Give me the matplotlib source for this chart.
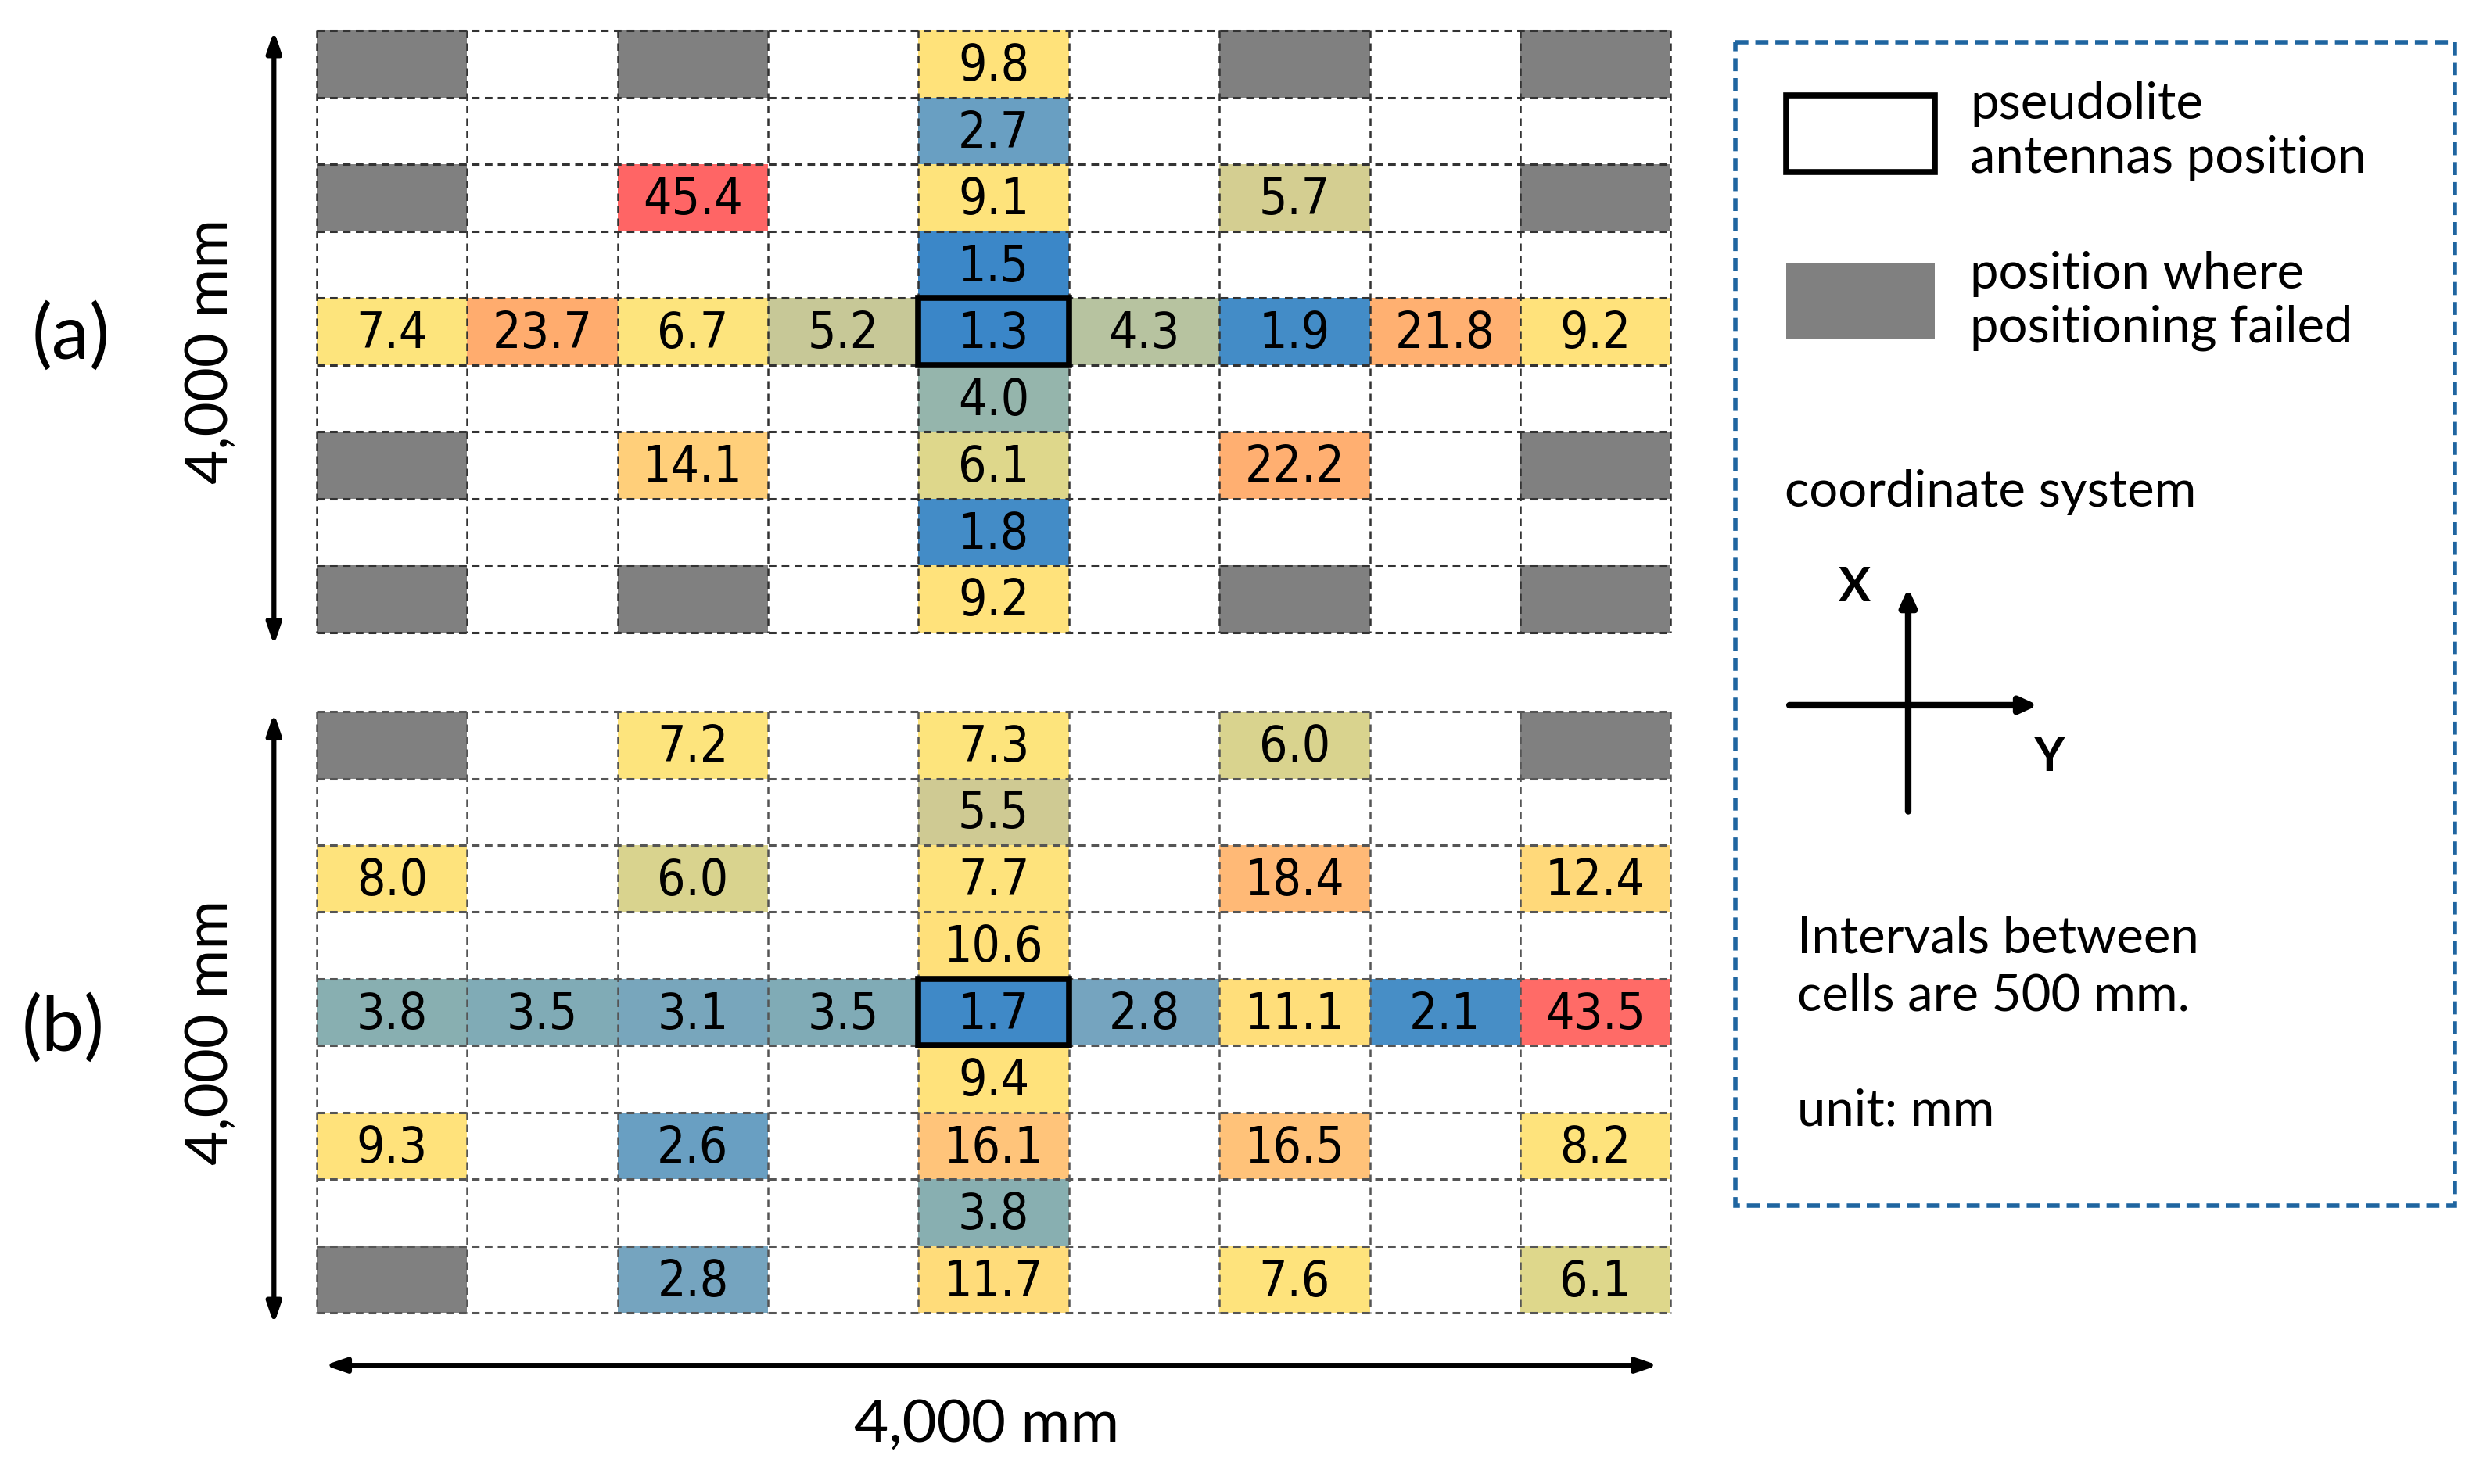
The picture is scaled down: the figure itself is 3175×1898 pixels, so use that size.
import numpy as np
import matplotlib
matplotlib.use("Agg")
import matplotlib.pyplot as plt
from matplotlib.patches import Rectangle
from matplotlib.colors import LinearSegmentedColormap

# positioning error (mm) per cell, nan = not measured
N = np.nan
err_a = [
    [N, N, N, N, 9.8, N, N, N, N],
    [N, N, N, N, 2.7, N, N, N, N],
    [N, N, 45.4, N, 9.1, N, 5.7, N, N],
    [N, N, N, N, 1.5, N, N, N, N],
    [7.4, 23.7, 6.7, 5.2, 1.3, 4.3, 1.9, 21.8, 9.2],
    [N, N, N, N, 4.0, N, N, N, N],
    [N, N, 14.1, N, 6.1, N, 22.2, N, N],
    [N, N, N, N, 1.8, N, N, N, N],
    [N, N, N, N, 9.2, N, N, N, N],
]
fail_a = [(0, 0), (0, 2), (0, 6), (0, 8), (2, 0), (2, 8), (6, 0), (6, 8),
          (8, 0), (8, 2), (8, 6), (8, 8)]

err_b = [
    [N, N, 7.2, N, 7.3, N, 6.0, N, N],
    [N, N, N, N, 5.5, N, N, N, N],
    [8.0, N, 6.0, N, 7.7, N, 18.4, N, 12.4],
    [N, N, N, N, 10.6, N, N, N, N],
    [3.8, 3.5, 3.1, 3.5, 1.7, 2.8, 11.1, 2.1, 43.5],
    [N, N, N, N, 9.4, N, N, N, N],
    [9.3, N, 2.6, N, 16.1, N, 16.5, N, 8.2],
    [N, N, N, N, 3.8, N, N, N, N],
    [N, N, 2.8, N, 11.7, N, 7.6, N, 6.1],
]
fail_b = [(0, 0), (0, 8), (8, 0)]

antenna = (4, 4)

# colour scale anchors (error mm -> colour)
anchor_vals = [0, 1.3, 2.1, 2.7, 3.1, 3.8, 4.3, 5.5, 6.1, 6.5, 10, 12.5, 16, 19, 24, 45, 50]
anchor_cols = ["#3a86c8", "#3a86c8", "#4a90c6", "#74a4c0", "#7ba8b9", "#8ab0b0",
               "#b7c3a0", "#cfca93", "#dfd88b", "#fde47d", "#ffe27a", "#ffd87a",
               "#ffc47a", "#ffb675", "#ffab6e", "#ff6666", "#ff6060"]
cmap = LinearSegmentedColormap.from_list(
    "err", list(zip(np.array(anchor_vals) / 50.0, anchor_cols)))

FAIL = "#808080"
num_font = ["DejaVu Sans"]
txt_font = ["Lato", "DejaVu Sans"]

fig = plt.figure(figsize=(31.75, 18.99), dpi=100)
ax = fig.add_axes([0, 0, 1, 1])
ax.set_xlim(0, 1568)
ax.set_ylim(938, 0)
ax.axis("off")

X0, CW, CH = 200, 95.0, 380 / 9


def draw_grid(y0, err, fail, gridcol):
    err = np.array(err, dtype=float)
    nr, nc = err.shape
    for r in range(nr):
        for c in range(nc):
            x, y = X0 + c * CW, y0 + r * CH
            if (r, c) in fail:
                ax.add_patch(Rectangle((x, y), CW, CH, color=FAIL, lw=0))
            elif not np.isnan(err[r, c]):
                ax.add_patch(Rectangle((x, y), CW, CH,
                                       color=cmap(err[r, c] / 50.0), lw=0))
                ax.text(x + CW / 2, y + CH / 2 + 1, f"{err[r, c]:.1f}",
                        ha="center", va="center", fontsize=46,
                        family=num_font, fontstretch="condensed", color="black")
    for r in range(nr + 1):
        ax.plot([X0, X0 + nc * CW], [y0 + r * CH] * 2, color=gridcol,
                lw=2.2, ls=(0, (3.2, 2.2)), zorder=3)
    for c in range(nc + 1):
        ax.plot([X0 + c * CW] * 2, [y0, y0 + nr * CH], color=gridcol,
                lw=1.8, ls=(0, (3.8, 2.6)), zorder=3)
    ar, ac = antenna
    ax.add_patch(Rectangle((X0 + ac * CW, y0 + ar * CH), CW, CH, fill=False,
                           ec="black", lw=5.5, zorder=4))


draw_grid(20, err_a, fail_a, "#333333")
draw_grid(450, err_b, fail_b, "#555555")

arrow = dict(arrowstyle="<|-|>,head_length=1.6,head_width=0.55", color="black",
             lw=4.5, shrinkA=0, shrinkB=0)
ax.annotate("", xy=(173, 20), xytext=(173, 408), arrowprops=arrow)
ax.annotate("", xy=(173, 451), xytext=(173, 837), arrowprops=arrow)
ax.annotate("", xy=(205, 863), xytext=(1047, 863), arrowprops=arrow)

ax.text(133, 222, "4,000 mm", rotation=90, ha="center", va="center",
        fontsize=55, family=txt_font)
ax.text(133, 652, "4,000 mm", rotation=90, ha="center", va="center",
        fontsize=55, family=txt_font)
ax.text(623, 900, "4,000 mm", ha="center", va="center", fontsize=55,
        family=txt_font)
ax.text(45, 213, "(a)", ha="center", va="center", fontsize=70, family=txt_font)
ax.text(40, 650, "(b)", ha="center", va="center", fontsize=70, family=txt_font)

# legend panel
ax.add_patch(Rectangle((1096, 27), 454, 735, fill=False, ec="#1f65a0",
                       lw=4, ls=(0, (3, 1.6)), zorder=2))
ax.add_patch(Rectangle((1128, 61), 94, 48, fill=False, ec="black", lw=5.5))
ax.add_patch(Rectangle((1128, 167), 94, 48, color=FAIL, lw=0))
ax.text(1244, 83, "pseudolite\nantennas position", ha="left", va="center",
        fontsize=47, family=txt_font, linespacing=1.2)
ax.text(1244, 190, "position where\npositioning failed", ha="left",
        va="center", fontsize=47, family=txt_font, linespacing=1.2)
ax.text(1127, 311, "coordinate system", ha="left", va="center", fontsize=47,
        family=txt_font)

cross = dict(arrowstyle="-|>,head_length=1.3,head_width=0.6", color="black",
             lw=6, shrinkA=0, shrinkB=0)
ax.annotate("", xy=(1205, 372), xytext=(1205, 513), arrowprops=cross)
ax.annotate("", xy=(1287, 446), xytext=(1130, 446), arrowprops=cross)
ax.text(1171, 371, "X", ha="center", va="center", fontsize=44,
        fontweight="bold", family=txt_font)
ax.text(1294, 478, "Y", ha="center", va="center", fontsize=44,
        fontweight="bold", family=txt_font)

ax.text(1135, 611, "Intervals between\ncells are 500 mm.", ha="left",
        va="center", fontsize=47, family=txt_font, linespacing=1.3)
ax.text(1135, 702, "unit: mm", ha="left", va="center", fontsize=47,
        family=txt_font)

fig.savefig("out.png", dpi=100, facecolor="white")
